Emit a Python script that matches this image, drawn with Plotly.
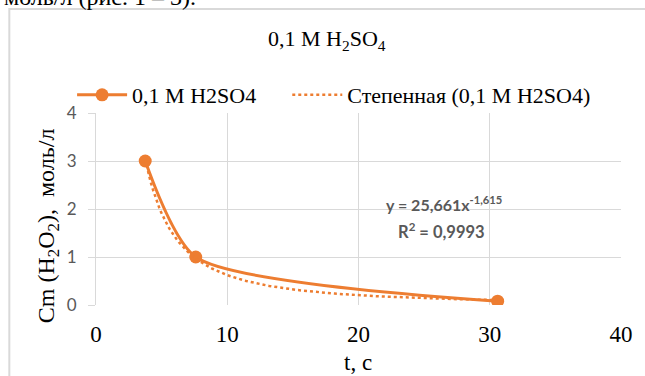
import numpy as np
import plotly.graph_objects as go

# Data
t_values = [3.75, 7.6, 30.6]
c_values = [3.0, 1.0, 0.08]
series_name = "0,1 M H2SO4"
trend_name = "Степенная (0,1 M H2SO4)"
fit_a = 25.661
fit_b = -1.615
r2_text = "0,9993"
x_ticks = [0, 10, 20, 30, 40]
y_ticks = [0, 1, 2, 3, 4]

ORANGE = "#ED7D31"
W, H = 645, 376
L, R, T, B = 96, 22, 113, 71
PW, PH = W - L - R, H - T - B

def px_x(p):
    return (p - L) / PW

def px_y(p):
    return (H - B - p) / PH

t_fit = np.linspace(min(t_values), max(t_values), 200)
c_fit = fit_a * t_fit ** fit_b

serif = "Liberation Serif"
sans = "Lato"

fig = go.Figure()
fig.add_trace(go.Scatter(
    x=t_values, y=c_values, name=series_name, mode="lines+markers",
    line=dict(color=ORANGE, width=3, shape="spline", smoothing=0.65),
    marker=dict(color=ORANGE, size=13), legend="legend",
))
fig.add_trace(go.Scatter(
    x=t_fit, y=c_fit, name=trend_name, mode="lines",
    line=dict(color=ORANGE, width=2.5, dash="dot"), legend="legend2",
))

leg_common = dict(
    orientation="h", yanchor="middle", xanchor="left",
    font=dict(family=serif, size=22, color="black"),
    bgcolor="rgba(0,0,0,0)", itemwidth=50, borderwidth=0,
)

fig.update_layout(
    width=W, height=H,
    margin=dict(l=L, r=R, t=T, b=B),
    font=dict(family=serif, size=22, color="black"),
    paper_bgcolor="white", plot_bgcolor="white",
    showlegend=True,
    legend=dict(x=px_x(72), y=px_y(95), **leg_common),
    legend2=dict(x=px_x(288), y=px_y(95), **leg_common),
    xaxis=dict(
        range=[0, 40], tickvals=x_ticks, showgrid=True, gridcolor="#d9d9d9", gridwidth=1,
        zeroline=False, showline=False, ticks="", ticklabelstandoff=13,
        tickfont=dict(family=serif, size=23, color="black"),
    ),
    yaxis=dict(
        range=[0, 4], tickvals=y_ticks, showgrid=True, gridcolor="#d9d9d9", gridwidth=1,
        zeroline=False, showline=True, linecolor="#d9d9d9", linewidth=1,
        ticks="outside", ticklen=7, tickcolor="#d9d9d9", ticklabelstandoff=8,
        tickfont=dict(family=sans, size=17, color="#595959"),
    ),
)

annotations = [
    dict(text="0,1 M H<sub>2</sub>SO<sub>4</sub>", x=px_x(328), y=px_y(40), xref="paper", yref="paper",
         xanchor="center", yanchor="middle",
         showarrow=False, font=dict(family=serif, size=22, color="black")),
    dict(text="Cm (H<sub>2</sub>O<sub>2</sub>),  моль/л", x=px_x(48), y=px_y(226), xref="paper", yref="paper",
         xanchor="center", yanchor="middle",
         textangle=-90, showarrow=False, font=dict(family=serif, size=24, color="black")),
    dict(text="t, c", x=px_x(359), y=px_y(362), xref="paper", yref="paper",
         xanchor="center", yanchor="middle",
         showarrow=False, font=dict(family=serif, size=23, color="black")),
    dict(text="<b>y = 25,661x<sup>-1,615</sup></b>", x=px_x(445), y=px_y(203), xref="paper", yref="paper",
         xanchor="center", yanchor="middle",
         showarrow=False, font=dict(family=sans, size=16, color="#595959")),
    dict(text="<b>R<sup>2</sup> = " + r2_text + "</b>", x=px_x(443), y=px_y(231), xref="paper", yref="paper",
         xanchor="center", yanchor="middle",
         showarrow=False, font=dict(family=sans, size=16.5, color="#595959")),
    dict(text="моль/л (рис. 1 – 3).", x=px_x(2), y=px_y(-3), xref="paper", yref="paper",
         xanchor="left", yanchor="middle",
         showarrow=False, font=dict(family=serif, size=24, color="black")),
]
fig.update_layout(annotations=annotations)

fig.add_shape(type="rect", xref="paper", yref="paper",
              x0=px_x(9), x1=px_x(660), y0=px_y(400), y1=px_y(9),
              line=dict(color="#d9d9d9", width=2), fillcolor="rgba(0,0,0,0)", layer="below")

fig.write_html("out.html")
